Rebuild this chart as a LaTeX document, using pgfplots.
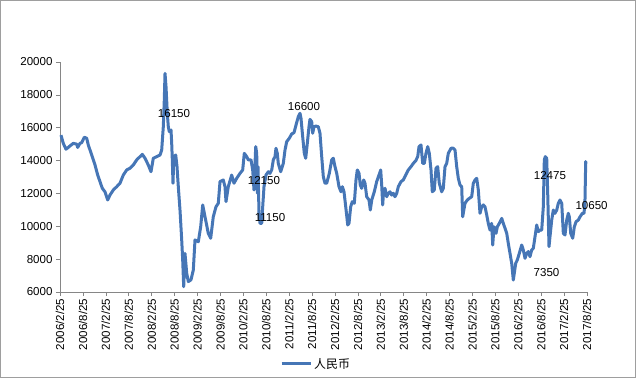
\documentclass[border=0pt]{standalone}
\usepackage{fontspec}
\setmainfont{Liberation Sans}
\newfontfamily\cjk{Noto Sans CJK SC}
\usepackage{pgfplots}
\pgfplotsset{compat=1.18}
\definecolor{lineblue}{RGB}{70,118,182}
\definecolor{axgray}{RGB}{134,134,134}
\begin{document}
\begin{tikzpicture}
\path[use as bounding box] (-60bp,-86bp) rectangle (576bp,292bp);
\draw[axgray!80, line width=0.8bp] (-59.6bp,-85.6bp) rectangle (575.6bp,291.6bp);
\begin{axis}[
  width=527bp, height=230bp, scale only axis,
  xmin=0, xmax=138, ymin=6000, ymax=20000,
  clip=false, scaled ticks=false,
  axis lines=left, axis line style={-, draw=axgray},
  tick style={draw=axgray, line width=0.6bp},
  tick align=outside, major tick length=4bp,
  xtick={0,6,...,138},
  xticklabels={2006/2/25,2006/8/25,2007/2/25,2007/8/25,2008/2/25,2008/8/25,2009/2/25,2009/8/25,2010/2/25,2010/8/25,2011/2/25,2011/8/25,2012/2/25,2012/8/25,2013/2/25,2013/8/25,2014/2/25,2014/8/25,2015/2/25,2015/8/25,2016/2/25,2016/8/25,2017/2/25,2017/8/25},
  x tick label style={rotate=90, anchor=east, font=\fontsize{11.6}{13}\selectfont, inner sep=2.5bp},
  ytick={6000,8000,...,20000},
  y tick label style={font=\fontsize{11.6}{13}\selectfont},
  /pgf/number format/1000 sep={},
  /pgf/number format/assume math mode=true,
  legend style={at={(0.486,-0.313)}, anchor=center, draw=none, fill=none,
    font=\cjk\fontsize{12}{14}\selectfont},
  legend image code/.code={\draw[line width=3bp, lineblue] (0bp,0bp) -- (29bp,0bp);},
]
\addplot[lineblue, line width=3bp, line join=round] coordinates {
(0.26,15550)(0.86,15050)(1.57,14690)(2.62,14890)(3.48,15050)(4.37,15000)(4.63,14800)(5.24,15050)(5.68,15090)(6.36,15420)(6.99,15360)(7.41,14950)(8.30,14340)(9.17,13730)(9.87,13120)(10.47,12720)(11.08,12310)(11.78,12100)(12.49,11600)(13.09,11900)(13.96,12210)(14.85,12410)(15.71,12620)(16.58,13120)(17.47,13430)(18.33,13530)(19.19,13730)(20.08,14040)(20.95,14240)(21.55,14380)(22.26,14140)(23.12,13730)(23.83,13320)(24.43,14140)(25.32,14240)(26.19,14340)(26.63,14640)(27.05,16060)(27.31,17690)(27.50,19310)(27.76,18500)(28.10,16880)(28.36,16060)(28.62,15760)(29.07,15860)(29.25,15050)(29.41,14040)(29.59,12620)(29.77,14040)(29.93,14240)(30.30,14340)(30.64,13630)(30.98,12410)(31.42,11000)(31.87,9170)(32.13,7950)(32.39,6320)(32.73,8350)(33.18,7140)(33.60,6630)(34.30,6740)(34.91,7340)(35.35,9170)(36.22,9060)(36.84,9970)(37.37,11300)(37.97,10580)(38.83,9570)(39.46,9270)(40.14,10580)(40.85,11190)(41.45,11400)(41.90,12720)(42.76,12820)(43.21,12410)(43.47,11500)(44.07,12410)(44.96,13120)(45.56,12620)(46.27,12920)(47.13,13220)(47.84,13430)(48.26,14440)(48.89,14240)(49.31,14040)(50.02,14040)(50.46,13430)(50.80,12210)(51.25,14850)(51.51,14440)(51.67,12010)(51.85,13630)(52.11,10790)(52.37,10180)(52.82,10180)(53.08,11190)(53.42,12410)(53.94,13120)(54.55,13320)(54.99,13220)(55.44,13430)(55.86,14040)(56.30,14240)(56.56,14750)(56.90,14440)(57.16,13830)(57.79,13320)(58.47,13830)(58.92,14640)(59.36,15150)(60.05,15360)(60.67,15620)(61.28,15700)(61.80,16160)(62.40,16670)(62.85,16880)(63.11,16570)(63.55,15450)(63.97,14440)(64.34,14140)(64.76,15050)(65.20,16060)(65.46,16510)(65.91,16370)(66.17,15660)(66.51,16060)(67.04,16100)(67.64,16060)(68.08,15660)(68.53,14240)(68.95,13020)(69.39,12620)(69.84,12620)(70.52,13220)(71.15,14040)(71.57,14140)(72.01,13630)(72.46,13220)(73.06,12410)(73.58,12100)(73.93,12410)(74.37,12100)(74.82,11190)(75.34,10080)(75.68,10180)(76.12,11190)(76.54,11500)(77.07,11400)(77.51,12820)(77.85,13430)(78.30,13220)(78.64,12510)(79.00,12310)(79.53,12820)(79.87,12620)(80.31,11800)(80.92,11600)(81.26,10990)(81.63,11600)(82.30,12100)(82.93,12720)(83.53,13120)(83.98,13430)(84.24,12510)(84.50,11300)(84.76,12210)(85.11,12310)(85.55,11800)(85.97,12010)(86.41,12100)(86.86,11900)(87.28,12010)(87.72,11800)(88.17,12010)(88.59,12410)(89.30,12720)(89.90,12820)(90.53,13120)(91.21,13430)(91.91,13630)(92.52,13830)(93.15,13990)(93.67,14240)(94.01,14850)(94.53,14950)(94.98,13830)(95.40,13830)(95.84,14440)(96.29,14850)(96.71,14440)(97.15,13430)(97.49,12100)(98.01,12210)(98.46,13530)(98.90,13630)(99.32,12620)(99.95,12100)(100.37,12310)(100.82,13630)(101.26,13830)(101.68,14440)(102.39,14750)(102.99,14750)(103.44,14640)(103.88,13630)(104.30,12920)(104.75,12510)(105.19,12410)(105.45,10580)(106.05,11400)(106.66,11600)(107.18,11700)(107.81,11800)(108.23,12620)(108.67,12820)(109.12,12920)(109.54,12210)(109.98,10790)(110.43,11190)(110.85,11300)(111.29,11190)(111.74,10690)(112.15,10180)(112.60,9770)(113.04,10180)(113.31,8860)(113.65,9970)(114.17,9570)(114.52,9970)(115.04,10180)(115.67,10480)(116.09,10180)(116.53,9880)(116.98,9570)(117.39,8960)(117.84,8350)(118.28,7750)(118.70,6730)(118.96,7140)(119.33,7750)(119.75,7950)(120.27,8350)(120.90,8860)(121.32,8560)(121.77,8050)(122.21,8350)(122.63,8460)(123.07,8150)(123.52,8560)(123.94,8660)(124.39,9370)(124.83,10080)(125.25,9670)(125.69,9770)(126.14,9770)(126.56,11190)(126.82,14040)(127.08,14240)(127.45,14140)(127.71,12010)(128.05,8760)(128.31,9370)(128.76,10380)(129.18,10990)(129.62,10790)(130.07,10990)(130.49,11400)(130.93,11600)(131.38,11400)(131.80,9570)(132.24,9470)(132.69,10380)(133.11,10790)(133.37,10580)(133.74,9570)(134.26,9270)(134.68,9970)(135.13,10280)(135.73,10380)(136.18,10580)(136.78,10790)(137.23,10790)(137.47,11600)(137.66,13940)(137.73,13800)
};
\addlegendentry{人民币}
\node[font=\fontsize{11.6}{13}\selectfont] at (axis cs:29.85,16835) {16150};
\node[font=\fontsize{11.6}{13}\selectfont] at (axis cs:63.9,17280) {16600};
\node[font=\fontsize{11.6}{13}\selectfont] at (axis cs:53.4,12775) {12150};
\node[font=\fontsize{11.6}{13}\selectfont] at (axis cs:55.0,10525) {11150};
\node[font=\fontsize{11.6}{13}\selectfont] at (axis cs:128.3,13120) {12475};
\node[font=\fontsize{11.6}{13}\selectfont] at (axis cs:139.2,11235) {10650};
\node[font=\fontsize{11.6}{13}\selectfont] at (axis cs:127.4,7175) {7350};
\end{axis}
\end{tikzpicture}
\end{document}
